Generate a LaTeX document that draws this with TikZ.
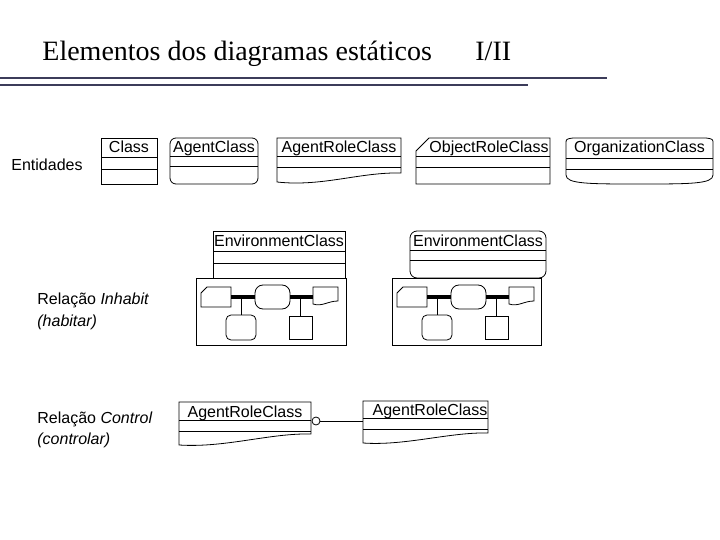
\documentclass[tikz,border=0pt]{standalone}
\usepackage{fontspec}
\setmainfont{Liberation Serif}
\newfontfamily\umlfont{Liberation Sans}
\usetikzlibrary{calc}
\definecolor{rulegray}{RGB}{60,60,90}

\tikzset{
  head/.style={font=\fontsize{28}{32}\selectfont, inner sep=0pt, anchor=base west},
  uml/.style={font=\umlfont\fontsize{16}{18}\selectfont, inner sep=0pt, anchor=base},
  note/.style={font=\umlfont\fontsize{16}{18}\selectfont, inner sep=0pt, anchor=base west},
  slot/.style={inner sep=0pt, outer sep=0pt, minimum width=#1},
  bar/.style={line width=3.5pt},
}

\begin{document}
\begin{tikzpicture}[x=1pt, y=-1pt, line width=0.8pt]
  \useasboundingbox (0,0) rectangle (720,540);

  % heading
  \node[head] (title) at (42,61) {Elementos dos diagramas estáticos};
  \node[head] (part) at (475,61) {I/II};
  \draw[rulegray, line width=1.1pt] (0,78) -- (607,78);
  \draw[rulegray, line width=1.1pt] (0,85) -- (528,85);

  % entities row
  \node[note, anchor=base] (ent) at (47,171) {Entidades};

  \draw (101,138) rectangle (157,184);
  \draw (101,157) -- (157,157) (101,169) -- (157,169);
  \node[uml] (cls) at (129,153) {Class};

  \draw[rounded corners=6pt] (170,138) rectangle (258,184);
  \draw (170,156) -- (258,156) (170,166) -- (258,166);
  \node[uml] (agc) at (214,153) {AgentClass};

  \draw (277,182) -- (277,138) -- (401,138) -- (401,173)
    .. controls (360,172) and (322,187) .. (277,182) -- cycle;
  \draw (277,156) -- (401,156) (277,167) -- (401,167);
  \node[uml] (arc) at (339,153) {AgentRoleClass};

  \draw (416,151) -- (429,138) -- (550,138) -- (550,184) -- (416,184) -- cycle;
  \draw (416,156) -- (550,156) (416,167) -- (550,167);
  \node[uml] (orc) at (489,153) {ObjectRoleClass};

  \draw (566,144) .. controls (566,139) .. (573,138) -- (706,138)
    .. controls (713,139) .. (713,144) -- (713,175)
    .. controls (713,184) and (690,184) .. (639.5,184)
    .. controls (589,184) and (566,184) .. (566,175) -- cycle;
  \draw (566,158) -- (713,158) (566,169) -- (713,169);
  \node[uml] (ogc) at (639.5,153) {OrganizationClass};

  % inhabit row
  \node[note] (inh) at (37,304) {Relação \textit{Inhabit}};
  \node[note] (inh2) at (37,326) {\textit{(habitar)}};

  \draw (213,231) rectangle (345,278);
  \draw (213,251) -- (345,251) (213,263) -- (345,263);
  \node[uml] (env1) at (279,246) {EnvironmentClass};
  \draw (196,278) rectangle (346,345);

  \draw[rounded corners=7pt] (410,231) rectangle (546,278);
  \draw (410,250) -- (546,250) (410,260) -- (546,260);
  \node[uml] (env2) at (478,247) {EnvironmentClass};
  \draw (392,278) rectangle (541,345);

  \foreach \fx/\k in {196/a, 392/b} {
    \begin{scope}[xshift=\fx]
      \node[slot=30, minimum height=20] (or\k) at (20,297) {};
      \node[slot=35, minimum height=24, draw, rounded corners=8pt] (ag\k) at (76.5,297) {};
      \node[slot=25, minimum height=20] (ar\k) at (129.5,297) {};
      \node[slot=30, minimum height=25, draw, rounded corners=5pt] (ac\k) at (45,327.5) {};
      \node[slot=23, minimum height=23, draw] (cl\k) at (104.5,327.5) {};
      \draw ($(or\k.north west)+(0,6)$) -- ($(or\k.north west)+(6,0)$) -- (or\k.north east)
        -- (or\k.south east) -- (or\k.south west) -- cycle;
      \draw ($(ar\k.south west)+(0,-3)$) -- (ar\k.north west) -- (ar\k.north east)
        -- ($(ar\k.south east)+(0,-6)$)
        .. controls ($(ar\k.south east)+(-10,-6)$) and ($(ar\k.south west)+(9,0)$)
        .. ($(ar\k.south west)+(0,-3)$) -- cycle;
      \draw[bar] (or\k) -- (ag\k);
      \draw[bar] (ag\k) -- (ar\k);
      \draw (ac\k) -- (ac\k |- ag\k);
      \draw (cl\k) -- (cl\k |- ag\k);
    \end{scope}
  }

  % control row
  \node[note] (ctl) at (37,423) {Relação \textit{Control}};
  \node[note] (ctl2) at (37,444) {\textit{(controlar)}};

  \draw (179,445) -- (179,402) -- (311,402) -- (311,434)
    .. controls (270,433) and (225,448) .. (179,445) -- cycle;
  \draw (179,420) -- (311,420) (179,431) -- (311,431);
  \node[uml] (arc1) at (245,417) {AgentRoleClass};

  \draw (363,443) -- (363,401) -- (488,401) -- (488,433)
    .. controls (450,432) and (405,446) .. (363,443) -- cycle;
  \draw (363,418) -- (488,418) (363,429) -- (488,429);
  \node[uml] (arc2) at (430,415) {AgentRoleClass};

  \node[draw, circle, inner sep=0pt, minimum size=8pt] (knob) at (316,421) {};
  \coordinate (ctlin) at (363,421);
  \draw (knob) -- (ctlin);
\end{tikzpicture}
\end{document}
